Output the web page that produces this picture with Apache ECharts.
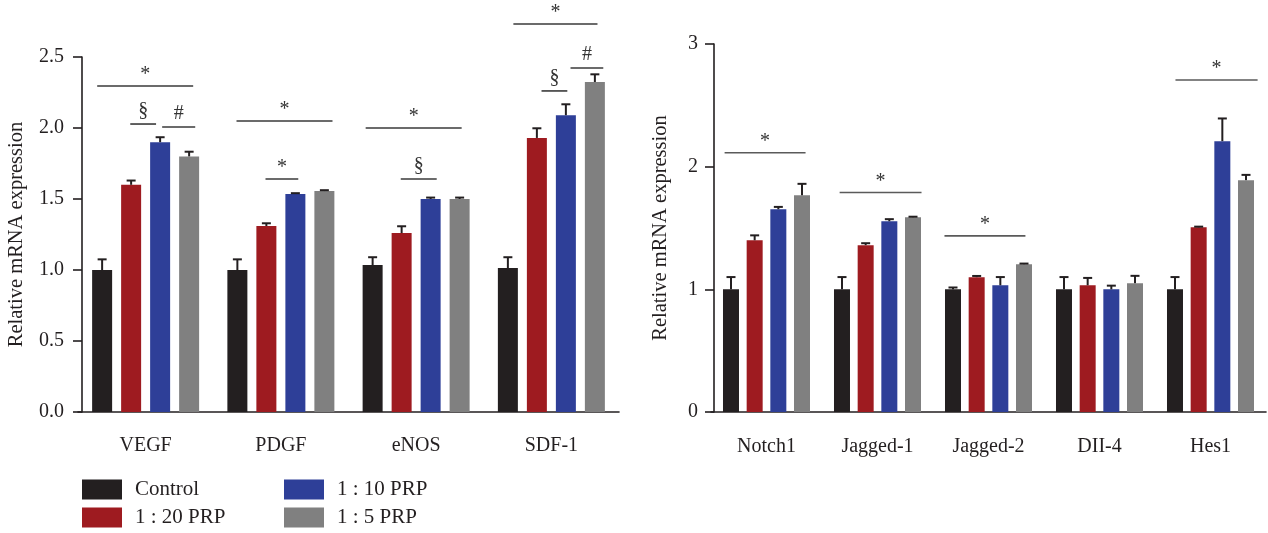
<!DOCTYPE html>
<html>
<head>
<meta charset="utf-8">
<script src="https://cdn.jsdelivr.net/npm/echarts@6/dist/echarts.min.js"></script>
<style>html,body{margin:0;padding:0;background:#fff}#c{width:1268px;height:533px}</style>
</head>
<body>
<div id="c"></div>
<script>
// ---------- data ----------
const seriesNames = ['Control', '1 : 20 PRP', '1 : 10 PRP', '1 : 5 PRP'];
const seriesColors = ['#231f20', '#9e1b20', '#2e3f98', '#808080'];

const leftCategories = ['VEGF', 'PDGF', 'eNOS', 'SDF-1'];
const leftControl = [1.0, 1.0, 1.035, 1.014];
const left1to20 = [1.60, 1.31, 1.26, 1.93];
const left1to10 = [1.90, 1.535, 1.50, 2.09];
const left1to5 = [1.80, 1.556, 1.50, 2.324];
const leftControlErr = [0.075, 0.075, 0.055, 0.076];
const left1to20Err = [0.03, 0.019, 0.048, 0.068];
const left1to10Err = [0.035, 0.006, 0.01, 0.077];
const left1to5Err = [0.033, 0.006, 0.01, 0.054];
const leftTicks = [0, 0.5, 1.0, 1.5, 2.0, 2.5];

const rightCategories = ['Notch1', 'Jagged-1', 'Jagged-2', 'DII-4', 'Hes1'];
const rightControl = [1.0, 1.0, 1.0, 1.0, 1.0];
const right1to20 = [1.40, 1.36, 1.099, 1.033, 1.506];
const right1to10 = [1.653, 1.555, 1.033, 1.0, 2.208];
const right1to5 = [1.767, 1.588, 1.205, 1.05, 1.89];
const rightControlErr = [0.10, 0.10, 0.015, 0.10, 0.10];
const right1to20Err = [0.04, 0.016, 0.01, 0.06, 0.005];
const right1to10Err = [0.019, 0.017, 0.067, 0.03, 0.185];
const right1to5Err = [0.093, 0.004, 0.005, 0.06, 0.043];
const rightTicks = [0, 1, 2, 3];

// significance annotations: category, span over bar positions (0..3), height, mark
const leftSigCat = [0, 0, 0, 1, 1, 2, 2, 3, 3, 3];
const leftSigFrom = [-0.17, 0.97, 2.07, -0.03, 0.97, -0.24, 0.97, 0.19, 1.16, 2.16];
const leftSigTo = [3.14, 1.86, 3.21, 3.28, 2.10, 3.07, 2.21, 3.09, 2.05, 3.29];
const leftSigY = [2.296, 2.028, 2.007, 2.049, 1.641, 2.0, 1.641, 2.732, 2.261, 2.423];
const leftSigMark = ['*', '§', '#', '*', '*', '*', '§', '*', '§', '#'];

const rightSigCat = [0, 1, 2, 4];
const rightSigFrom = [-0.27, -0.10, -0.36, 0.02];
const rightSigTo = [3.15, 3.36, 3.06, 3.49];
const rightSigY = [2.113, 1.79, 1.436, 2.706];
const rightSigMark = ['*', '*', '*', '*'];

// ---------- layout constants ----------
const FONT = 'Liberation Serif';
const INK = '#231f20';
const L_BAR = 20, L_GAP = 9, L_SLOT = L_BAR + L_GAP;
const R_BAR = 16, R_GAP = 7.67, R_SLOT = R_BAR + R_GAP;

const leftVals = [leftControl, left1to20, left1to10, left1to5];
const leftErrs = [leftControlErr, left1to20Err, left1to10Err, left1to5Err];
const rightVals = [rightControl, right1to20, right1to10, right1to5];
const rightErrs = [rightControlErr, right1to20Err, right1to10Err, right1to5Err];

function errData(vals, errs) {
  const out = [];
  vals.forEach((arr, s) => arr.forEach((v, c) => out.push([c, s, v, errs[s][c]])));
  return out;
}
function errRender(slot) {
  return function (params, api) {
    const c = api.value(0), s = api.value(1), m = api.value(2), e = api.value(3);
    const p0 = api.coord([c, m]);
    const p1 = api.coord([c, m + e]);
    const x = p0[0] + (s - 1.5) * slot;
    const st = { stroke: INK, lineWidth: 2 };
    return {
      type: 'group',
      children: [
        { type: 'line', shape: { x1: x, y1: p0[1], x2: x, y2: p1[1] }, style: st },
        { type: 'line', shape: { x1: x - 4.5, y1: p1[1], x2: x + 4.5, y2: p1[1] }, style: st }
      ]
    };
  };
}
function sigData(cat, from, to, y) {
  return cat.map((c, i) => [c, from[i], to[i], y[i]]);
}
function sigRender(slot, marks, lineColor) {
  return function (params, api) {
    const c = api.value(0), f = api.value(1), t = api.value(2), y = api.value(3);
    const p = api.coord([c, y]);
    const x1 = p[0] + (f - 1.5) * slot, x2 = p[0] + (t - 1.5) * slot;
    const mk = marks[params.dataIndex];
    return {
      type: 'group',
      children: [
        { type: 'line', shape: { x1: x1, y1: p[1], x2: x2, y2: p[1] }, style: { stroke: lineColor, lineWidth: 1.6 } },
        { type: 'text', x: (x1 + x2) / 2, y: p[1] - (mk === '*' ? 1 : 3),
          style: { text: mk, fill: '#333', font: (mk === '*' ? '20px ' : '20px ') + FONT,
                   textAlign: 'center', textVerticalAlign: 'bottom' } }
      ]
    };
  };
}

const axisLineStyle = { color: INK, width: 1.6 };
const tickLabelStyle = { color: '#231f20', fontFamily: FONT, fontSize: 20 };
const catLabelStyle = { color: '#231f20', fontFamily: FONT, fontSize: 20 };
const nameStyle = { color: '#231f20', fontFamily: FONT, fontSize: 20.5 };

const series = [];
seriesNames.forEach((n, s) => {
  series.push({ type: 'bar', name: n, xAxisIndex: 0, yAxisIndex: 0, data: leftVals[s],
    barWidth: L_BAR, barGap: (L_GAP / L_BAR * 100) + '%', itemStyle: { color: seriesColors[s] }, silent: true });
});
seriesNames.forEach((n, s) => {
  series.push({ type: 'bar', name: n, xAxisIndex: 1, yAxisIndex: 1, data: rightVals[s],
    barWidth: R_BAR, barGap: (R_GAP / R_BAR * 100) + '%', itemStyle: { color: seriesColors[s] }, silent: true });
});
series.push({ type: 'custom', xAxisIndex: 0, yAxisIndex: 0, data: errData(leftVals, leftErrs),
  encode: { x: 0, y: 2 }, renderItem: errRender(L_SLOT), z: 5, silent: true });
series.push({ type: 'custom', xAxisIndex: 1, yAxisIndex: 1, data: errData(rightVals, rightErrs),
  encode: { x: 0, y: 2 }, renderItem: errRender(R_SLOT), z: 5, silent: true });
series.push({ type: 'custom', xAxisIndex: 0, yAxisIndex: 0, clip: false,
  data: sigData(leftSigCat, leftSigFrom, leftSigTo, leftSigY),
  encode: { x: 0, y: 3 }, renderItem: sigRender(L_SLOT, leftSigMark, '#3a3a3a'), z: 5, silent: true });
series.push({ type: 'custom', xAxisIndex: 1, yAxisIndex: 1, clip: false,
  data: sigData(rightSigCat, rightSigFrom, rightSigTo, rightSigY),
  encode: { x: 0, y: 3 }, renderItem: sigRender(R_SLOT, rightSigMark, '#5a5a5a'), z: 5, silent: true });

const legendCommon = {
  orient: 'vertical', itemWidth: 40, itemHeight: 20, itemGap: 7, icon: 'rect',
  textStyle: { color: '#231f20', fontFamily: FONT, fontSize: 21, padding: [0, 0, 0, 8] },
  selectedMode: false, padding: 0
};

const option = {
  animation: false,
  backgroundColor: '#fff',
  grid: [
    { left: 78, top: 57, width: 541, bottom: 121 },
    { left: 711, top: 44, width: 555, bottom: 121 }
  ],
  legend: [
    Object.assign({ data: [seriesNames[0], seriesNames[1]], left: 82, top: 479 }, legendCommon),
    Object.assign({ data: [seriesNames[2], seriesNames[3]], left: 284, top: 479 }, legendCommon)
  ],
  xAxis: [
    { type: 'category', gridIndex: 0, data: leftCategories,
      axisLine: { lineStyle: axisLineStyle }, axisTick: { alignWithLabel: true, length: 9, lineStyle: axisLineStyle },
      axisLabel: Object.assign({ margin: 24 }, catLabelStyle) },
    { type: 'category', gridIndex: 1, data: rightCategories,
      axisLine: { lineStyle: axisLineStyle }, axisTick: { alignWithLabel: true, length: 10, lineStyle: axisLineStyle },
      axisLabel: Object.assign({ margin: 25 }, catLabelStyle) }
  ],
  yAxis: [
    { type: 'value', gridIndex: 0, min: leftTicks[0], max: leftTicks[leftTicks.length - 1], interval: 0.5,
      offset: -4,
      axisLine: { show: true, lineStyle: axisLineStyle }, axisTick: { show: true, length: 9, lineStyle: axisLineStyle },
      splitLine: { show: false },
      axisLabel: Object.assign({ margin: 18, formatter: v => v.toFixed(1) }, tickLabelStyle),
      name: 'Relative mRNA expression', nameLocation: 'middle', nameGap: 55, nameRotate: 90,
      nameTextStyle: nameStyle },
    { type: 'value', gridIndex: 1, min: rightTicks[0], max: rightTicks[rightTicks.length - 1], interval: 1,
      offset: -3,
      axisLine: { show: true, lineStyle: axisLineStyle }, axisTick: { show: true, length: 9, lineStyle: axisLineStyle },
      splitLine: { show: false },
      axisLabel: Object.assign({ margin: 16 }, tickLabelStyle),
      name: 'Relative mRNA expression', nameLocation: 'middle', nameGap: 43, nameRotate: 90,
      nameTextStyle: nameStyle }
  ],
  series: series
};

const chart = echarts.init(document.getElementById('c'), null, { renderer: 'canvas' });
chart.setOption(option);
</script>
</body>
</html>
